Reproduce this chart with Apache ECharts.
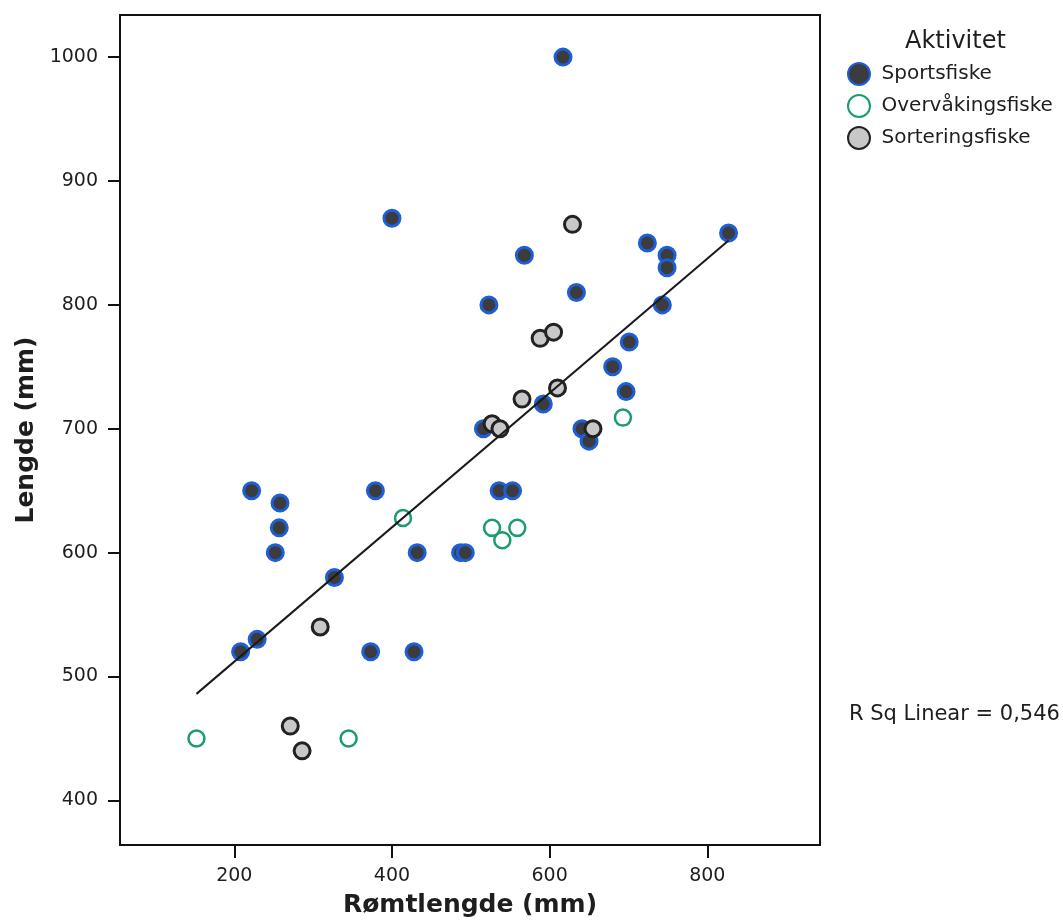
<!DOCTYPE html>
<html>
<head>
<meta charset="utf-8">
<script src="https://cdn.jsdelivr.net/npm/echarts@6/dist/echarts.min.js"></script>
<style>
  html, body { margin: 0; padding: 0; background: #fff; }
  #chart { width: 1063px; height: 923px; }
</style>
</head>
<body>
<div id="chart"></div>
<script>
// rømtlengde (x) / lengde (y), mm
const sportsfiske = [
  [617, 1000], [400, 870], [568, 840], [724, 850], [827, 858], [749, 840], [749, 830],
  [523, 800], [634, 810], [743, 800], [701, 770], [680, 750], [697, 730], [592, 720],
  [516, 700], [641, 700], [650, 690], [222, 650], [379, 650], [536, 650], [553, 650],
  [258, 640], [257, 620], [252, 600], [432, 600], [487, 600], [493, 600], [327, 580],
  [229, 530], [208, 520], [373, 520], [428, 520]
]
const overvakingsfiske = [
  [152, 450], [345, 450], [414, 628], [527, 620], [559, 620], [540, 610], [693, 709]
]
const sorteringsfiske = [
  [629, 865], [588, 773], [605, 778], [610, 733], [565, 724], [527, 704], [537, 700],
  [655, 700], [309, 540], [271, 460], [286, 440]
]
// fit line ends
const fitLine = [[152, 486], [827, 852]]
const xTicks = [200, 400, 600, 800]
const yTicks = [400, 500, 600, 700, 800, 900, 1000]
const rSquared = '0,546'

const FONT = 'DejaVu Sans'
const textColor = '#1e1e1e'

let chart = echarts.init(document.getElementById('chart'))

let option = {
  animation: false,
  backgroundColor: '#fff',
  grid: {
    left: 120,
    right: 243,
    top: 15,
    bottom: 78,
    show: true,
    borderColor: '#111',
    borderWidth: 2
  },
  xAxis: {
    type: 'value',
    min: 55,
    max: 943,
    name: 'Rømtlengde (mm)',
    nameLocation: 'middle',
    nameGap: 48,
    nameTextStyle: { fontFamily: FONT, fontSize: 25, fontWeight: 'bold', color: textColor },
    splitLine: { show: false },
    axisLine: { show: true, lineStyle: { color: '#111', width: 2 } },
    axisTick: { show: true, customValues: xTicks, length: 13, lineStyle: { color: '#111', width: 2 } },
    axisLabel: {
      customValues: xTicks, margin: 22, fontFamily: FONT, fontSize: 19, color: textColor,
      formatter: v => String(v)
    }
  },
  yAxis: {
    type: 'value',
    min: 364,
    max: 1034,
    name: 'Lengde (mm)',
    nameLocation: 'middle',
    nameGap: 74,
    nameTextStyle: { fontFamily: FONT, fontSize: 25, fontWeight: 'bold', color: textColor },
    splitLine: { show: false },
    axisLine: { show: true, lineStyle: { color: '#111', width: 2 } },
    axisTick: { show: true, customValues: yTicks, length: 12, lineStyle: { color: '#111', width: 2 } },
    axisLabel: {
      customValues: yTicks, margin: 22, fontFamily: FONT, fontSize: 19, color: textColor,
      formatter: v => String(v)
    }
  },
  legend: {
    orient: 'vertical',
    left: 847,
    top: 62,
    padding: 0,
    itemWidth: 23,
    itemHeight: 22,
    itemGap: 8,
    icon: 'circle',
    textStyle: { fontFamily: FONT, fontSize: 20, lineHeight: 20, color: textColor, padding: [0, 0, 0, 6] },
    data: ['Sportsfiske', 'Overvåkingsfiske', 'Sorteringsfiske']
  },
  graphic: [
    {
      type: 'text',
      left: 905,
      top: 30,
      style: { text: 'Aktivitet', fontFamily: FONT, fontSize: 24, fill: textColor }
    },
    {
      type: 'text',
      left: 849,
      top: 704,
      style: { text: 'R Sq Linear = ' + rSquared, fontFamily: FONT, fontSize: 21, fill: textColor }
    }
  ],
  series: [
    {
      name: 'Sportsfiske',
      type: 'scatter',
      symbol: 'circle',
      symbolSize: 16,
      itemStyle: { color: '#3c3c3e', borderColor: '#1e5fd8', borderWidth: 3, opacity: 1 },
      data: sportsfiske,
      z: 2
    },
    {
      name: 'Overvåkingsfiske',
      type: 'scatter',
      symbol: 'circle',
      symbolSize: 16,
      itemStyle: { color: '#fff', borderColor: '#1a9c6c', borderWidth: 2.5, opacity: 1 },
      data: overvakingsfiske,
      z: 3
    },
    {
      name: 'Sorteringsfiske',
      type: 'scatter',
      symbol: 'circle',
      symbolSize: 16,
      itemStyle: { color: '#c8c8c8', borderColor: '#222', borderWidth: 3, opacity: 1 },
      data: sorteringsfiske,
      z: 4
    },
    {
      name: 'fit',
      type: 'line',
      data: fitLine,
      symbol: 'none',
      silent: true,
      lineStyle: { color: '#1a1a1a', width: 2 },
      z: 5
    }
  ]
}

chart.setOption(option)
window.onresize = chart.resize
</script>
</body>
</html>
